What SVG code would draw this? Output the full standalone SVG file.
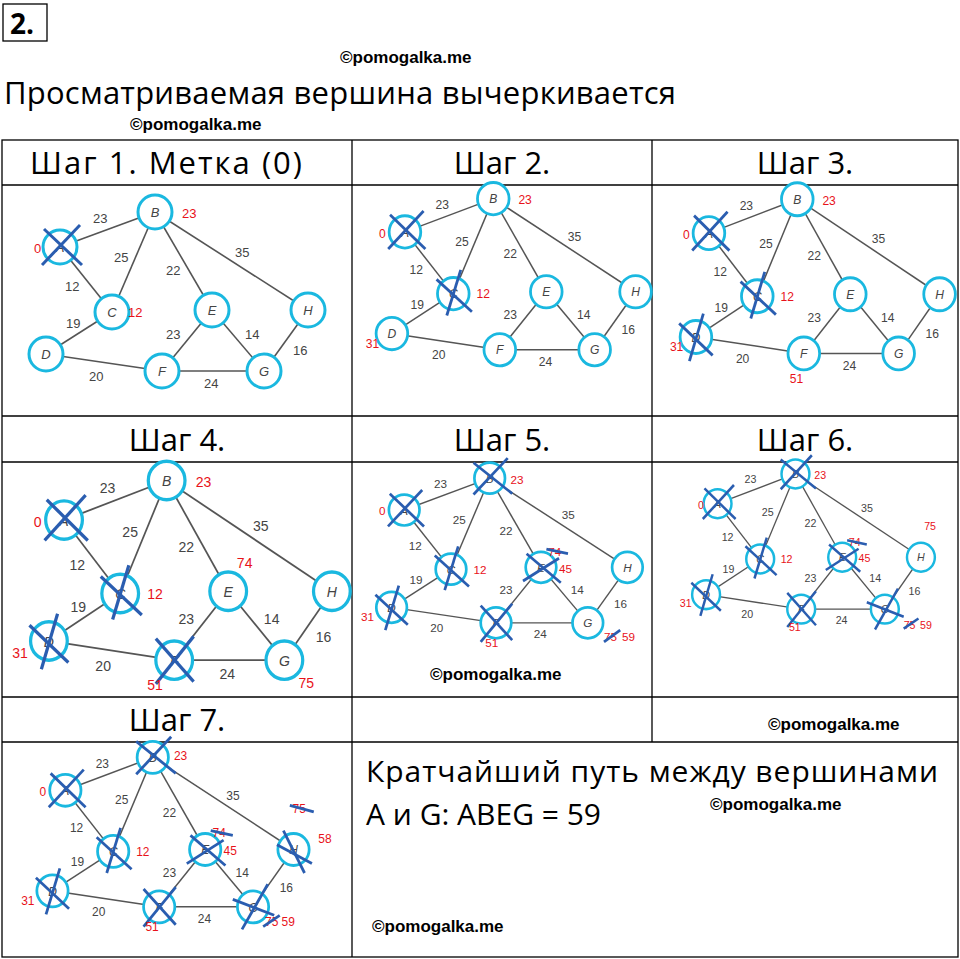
<svg xmlns="http://www.w3.org/2000/svg" xmlns:xlink="http://www.w3.org/1999/xlink" width="960" height="959" viewBox="0 0 960 959">
<style>
.t{font-family:"Open Sans","Liberation Sans",sans-serif;fill:#000}
.h{font-size:31px;text-anchor:middle}
.wm{font-family:"Liberation Sans",sans-serif;font-weight:bold;font-size:17px}
.e{stroke:#555;stroke-width:1.6;fill:none}
.n{fill:#fff;stroke:#1ab8e0;stroke-width:3}
.el{font-family:"Liberation Sans",sans-serif;font-size:13px;fill:#444}
.nl{font-family:"Liberation Sans",sans-serif;font-size:13px;font-style:italic;fill:#444;text-anchor:middle}
.x{stroke:#2a5db0;stroke-width:3;stroke-linecap:butt}
.r{font-family:"Liberation Sans",sans-serif;font-size:13px;fill:#e8121a}
.grid{stroke:#000;stroke-width:1.3;fill:none}
</style>
<defs>
<g id="graph">
<g id="edges" class="e">
<line x1="58" y1="62" x2="153" y2="27"/><line x1="58" y1="62" x2="110" y2="127"/>
<line x1="153" y1="27" x2="110" y2="127"/><line x1="153" y1="27" x2="210" y2="125"/>
<line x1="153" y1="27" x2="306" y2="125"/><line x1="110" y1="127" x2="44" y2="169"/>
<line x1="44" y1="169" x2="160" y2="186"/><line x1="210" y1="125" x2="160" y2="186"/>
<line x1="210" y1="125" x2="262" y2="186"/><line x1="160" y1="186" x2="262" y2="186"/>
<line x1="306" y1="125" x2="262" y2="186"/>
</g>
<g class="el">
<text x="91" y="38">23</text><text x="112" y="77">25</text><text x="63" y="106">12</text>
<text x="64" y="143">19</text><text x="164" y="90">22</text><text x="233" y="72">35</text>
<text x="164" y="154">23</text><text x="243" y="154">14</text><text x="291" y="170">16</text>
<text x="87" y="196">20</text><text x="202" y="203">24</text>
</g>
<g id="nA"><circle class="n" cx="58" cy="62" r="17"/><text class="nl" x="58" y="67">A</text></g>
<g id="nB"><circle class="n" cx="153" cy="27" r="17"/><text class="nl" x="153" y="32">B</text></g>
<g id="nC"><circle class="n" cx="110" cy="127" r="17"/><text class="nl" x="110" y="132">C</text></g>
<g id="nD"><circle class="n" cx="44" cy="169" r="17"/><text class="nl" x="44" y="174">D</text></g>
<g id="nE"><circle class="n" cx="210" cy="125" r="17"/><text class="nl" x="210" y="130">E</text></g>
<g id="nF"><circle class="n" cx="160" cy="186" r="17"/><text class="nl" x="160" y="191">F</text></g>
<g id="nG"><circle class="n" cx="262" cy="186" r="17"/><text class="nl" x="262" y="191">G</text></g>
<g id="nH"><circle class="n" cx="306" cy="125" r="17"/><text class="nl" x="306" y="130">H</text></g>
</g>
<g id="xA" class="x"><line x1="40" y1="80" x2="78" y2="40"/><line x1="42" y1="44" x2="80" y2="80"/></g>
<g id="xB" class="x"><line x1="135" y1="45" x2="173" y2="5"/><line x1="135" y1="10" x2="178" y2="44"/></g>
<g id="xC" class="x"><line x1="103" y1="150" x2="118" y2="102"/><line x1="92" y1="112" x2="130" y2="146"/></g>
<g id="xD" class="x"><line x1="37" y1="194" x2="52" y2="145"/><line x1="26" y1="155" x2="62" y2="188"/></g>
<g id="xE" class="x"><line x1="190" y1="140" x2="230" y2="115"/><line x1="194" y1="110" x2="232" y2="142"/></g>
<g id="xF" class="x"><line x1="143" y1="207" x2="178" y2="165"/><line x1="143" y1="167" x2="178" y2="205"/></g>
<g id="xG" class="x"><line x1="250" y1="210" x2="278" y2="162"/><line x1="240" y1="178" x2="285" y2="195"/></g>
<g id="xH" class="x"><line x1="295" y1="105" x2="318" y2="150"/><line x1="288" y1="120" x2="326" y2="140"/></g>
</defs>
<rect width="960" height="959" fill="#fff"/>
<rect x="3" y="4" width="44" height="37" class="grid" stroke-width="2"/>
<text class="t" x="10" y="34" font-size="28" font-weight="bold" font-family="Liberation Sans">2.</text>
<text class="wm" x="340" y="63">©pomogalka.me</text>
<text class="t" x="4" y="104" font-size="31" textLength="672">Просматриваемая вершина вычеркивается</text>
<text class="wm" x="130" y="130">©pomogalka.me</text>
<g id="table" class="grid">
<rect x="2" y="140" width="956" height="817"/>
<line x1="352" y1="140" x2="352" y2="957"/>
<line x1="652" y1="140" x2="652" y2="742"/>
<line x1="2" y1="185" x2="958" y2="185"/><line x1="2" y1="416" x2="958" y2="416"/>
<line x1="2" y1="462" x2="958" y2="462"/><line x1="2" y1="697" x2="958" y2="697"/>
<line x1="2" y1="742" x2="958" y2="742"/>
</g>
<g class="t h">
<text x="166" y="174" textLength="272">Шаг 1. Метка (0)</text><text x="502" y="174">Шаг 2.</text><text x="805" y="174">Шаг 3.</text>
<text x="177" y="451">Шаг 4.</text><text x="502" y="451">Шаг 5.</text><text x="805" y="451">Шаг 6.</text>
<text x="177" y="731">Шаг 7.</text>
</g>
<g id="step1" transform="translate(2,185)">
<use xlink:href="#graph"/><use xlink:href="#xA"/>
<text class="r" x="32" y="68">0</text><text class="r" x="180" y="33">23</text><text class="r" x="126" y="132">12</text>
</g>
<g id="step2" transform="translate(351,173) scale(0.93,0.95)">
<use xlink:href="#graph"/><use xlink:href="#xA"/><use xlink:href="#xC"/>
<text class="r" x="30" y="68">0</text><text class="r" x="180" y="33">23</text><text class="r" x="135" y="132">12</text><text class="r" x="16" y="184">31</text>
</g>
<g id="step3" transform="translate(655,173) scale(0.93,0.97)">
<use xlink:href="#graph"/><use xlink:href="#xA"/><use xlink:href="#xC"/><use xlink:href="#xD"/>
<text class="r" x="30" y="68">0</text><text class="r" x="180" y="33">23</text><text class="r" x="135" y="132">12</text><text class="r" x="16" y="184">31</text><text class="r" x="145" y="217">51</text>
</g>
<g id="step4" transform="translate(1.4,450) scale(1.08,1.13)">
<use xlink:href="#graph"/><use xlink:href="#xA"/><use xlink:href="#xC"/><use xlink:href="#xD"/><use xlink:href="#xF"/>
<text class="r" x="30" y="68">0</text><text class="r" x="180" y="33">23</text><text class="r" x="135" y="132">12</text><text class="r" x="10" y="184">31</text><text class="r" x="135" y="212">51</text>
<text class="r" x="218" y="104">74</text><text class="r" x="275" y="211">75</text>
</g>
<g id="step5" transform="translate(352,453.6) scale(0.9,0.91)">
<use xlink:href="#graph"/><use xlink:href="#xA"/><use xlink:href="#xB"/><use xlink:href="#xC"/><use xlink:href="#xD"/><use xlink:href="#xF"/><use xlink:href="#xE"/>
<text class="r" x="30" y="68">0</text><text class="r" x="176" y="33">23</text><text class="r" x="135" y="132">12</text><text class="r" x="10" y="184">31</text><text class="r" x="148" y="212">51</text>
<text class="r" x="218" y="112">74</text><line class="x" x1="216" y1="105" x2="240" y2="110"/><text class="r" x="230" y="131">45</text>
<text class="r" x="280" y="206">75</text><line class="x" x1="280" y1="207" x2="298" y2="194"/><text class="r" x="300" y="206">59</text>
</g>
<g id="step6" transform="translate(670,451) scale(0.82,0.85)">
<use xlink:href="#graph"/><use xlink:href="#xA"/><use xlink:href="#xB"/><use xlink:href="#xC"/><use xlink:href="#xD"/><use xlink:href="#xF"/><use xlink:href="#xE"/><use xlink:href="#xG"/>
<text class="r" x="34" y="68">0</text><text class="r" x="176" y="33">23</text><text class="r" x="135" y="132">12</text><text class="r" x="12" y="184">31</text><text class="r" x="145" y="212">51</text>
<text class="r" x="218" y="112">74</text><line class="x" x1="216" y1="105" x2="240" y2="110"/><text class="r" x="230" y="131">45</text>
<text class="r" x="285" y="210">75</text><line class="x" x1="285" y1="209" x2="303" y2="197"/><text class="r" x="305" y="210">59</text>
<text class="r" x="310" y="93">75</text>
</g>
<g id="step7" transform="translate(12,732) scale(0.92,0.94)">
<use xlink:href="#graph"/><use xlink:href="#xA"/><use xlink:href="#xB"/><use xlink:href="#xC"/><use xlink:href="#xD"/><use xlink:href="#xF"/><use xlink:href="#xE"/><use xlink:href="#xG"/><use xlink:href="#xH"/>
<text class="r" x="30" y="68">0</text><text class="r" x="176" y="30">23</text><text class="r" x="135" y="132">12</text><text class="r" x="10" y="184">31</text><text class="r" x="145" y="212">51</text>
<text class="r" x="218" y="112">74</text><line class="x" x1="216" y1="105" x2="240" y2="110"/><text class="r" x="230" y="131">45</text>
<text class="r" x="275" y="206">75</text><line class="x" x1="273" y1="207" x2="291" y2="195"/><text class="r" x="293" y="206">59</text>
<text class="r" x="305" y="86">75</text><line class="x" x1="302" y1="78" x2="328" y2="85"/><text class="r" x="333" y="118" font-size="20">58</text>
</g>
<text class="wm" x="430" y="680">©pomogalka.me</text>
<text class="wm" x="768" y="730">©pomogalka.me</text>
<text class="t" x="366" y="782" font-size="30" textLength="572">Кратчайший путь между вершинами</text>
<text class="t" x="366" y="825" font-size="30">A и G: ABEG = 59</text>
<text class="wm" x="710" y="810">©pomogalka.me</text>
<text class="wm" x="372" y="932">©pomogalka.me</text>
</svg>
